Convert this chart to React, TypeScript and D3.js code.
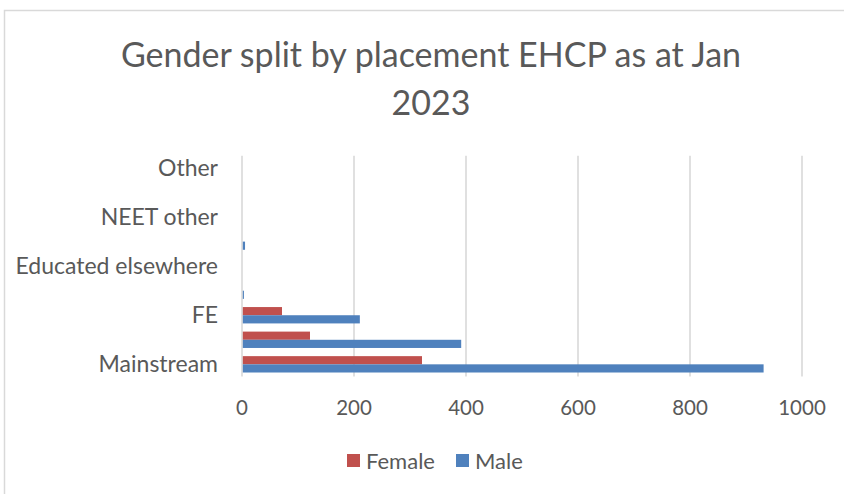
import React from "react";
import * as d3 from "d3";

const categories = [
  "Mainstream",
  "Special",
  "FE",
  "Independent",
  "Educated elsewhere",
  "Alternative provision",
  "NEET other",
  "Not known",
  "Other",
];
const shownLabels = ["Mainstream", "FE", "Educated elsewhere", "NEET other", "Other"];
const femaleValues = [320, 120, 70, 0, 0, 0, 0, 0, 0];
const maleValues = [930, 390, 209, 2, 0, 4, 0, 0, 0];
const seriesNames = ["Female", "Male"];
const seriesColors = ["#C0504D", "#4F81BD"];
const xTicks = [0, 200, 400, 600, 800, 1000];
const titleLines = ["Gender split by placement EHCP as at Jan", "2023"];

const W = 844;
const H = 494;
const FONT = "Lato, 'Open Sans', sans-serif";
const TEXT = "#595959";

export default function App() {
  const x = d3.scaleLinear().domain([0, 1000]).range([242, 802]);
  const y = d3.scaleBand<string>().domain(categories).range([376.6, 155.7]);
  const inner = d3
    .scaleBand<string>()
    .domain(seriesNames)
    .range([0, y.bandwidth()])
    .paddingOuter(0.5)
    .paddingInner(0);
  const series = [femaleValues, maleValues];
  const [top, bottom] = [155.7, 376.6];

  return (
    <svg
      width={W}
      height={H}
      style={{ position: "absolute", left: 0, top: 0, background: "#fff" }}
      fontFamily={FONT}
    >
      <rect x={4.5} y={10.5} width={W + 20} height={H + 20} fill="#fff" stroke="#D9D9D9" strokeWidth={1.5} />
      {titleLines.map((t, i) => (
        <text key={t} x={431} y={67 + i * 48} textAnchor="middle" fontSize={34} fill={TEXT}>
          {t}
        </text>
      ))}
      {xTicks.map((t) => (
        <line key={"g" + t} x1={x(t)} x2={x(t)} y1={top} y2={bottom} stroke="#D9D9D9" strokeWidth={1.6} />
      ))}
      {categories.map((c, ci) => (
        <g key={c} transform={`translate(0,${y(c)})`}>
          {series.map((vals, si) => (
            <rect
              key={si}
              x={x(0) + 0.8}
              y={inner(seriesNames[si])}
              width={Math.max(0, x(vals[ci]) - x(0))}
              height={inner.bandwidth()}
              fill={seriesColors[si]}
            />
          ))}
        </g>
      ))}
      {categories
        .filter((c) => shownLabels.includes(c))
        .map((c) => (
          <text
            key={"l" + c}
            x={218}
            y={(y(c) as number) + y.bandwidth() / 2}
            dy="0.35em"
            textAnchor="end"
            fontSize={23}
            fill={TEXT}
          >
            {c}
          </text>
        ))}
      {xTicks.map((t) => (
        <text key={"t" + t} x={x(t)} y={408} dy="0.35em" textAnchor="middle" fontSize={20.5} fill={TEXT}>
          {t}
        </text>
      ))}
      {seriesNames.map((s, i) => {
        const lx = [347, 456][i];
        return (
          <g key={s}>
            <rect x={lx} y={454} width={13} height={13} fill={seriesColors[i]} />
            <text x={lx + 19} y={461} dy="0.35em" fontSize={22} fill={TEXT}>
              {s}
            </text>
          </g>
        );
      })}
    </svg>
  );
}
